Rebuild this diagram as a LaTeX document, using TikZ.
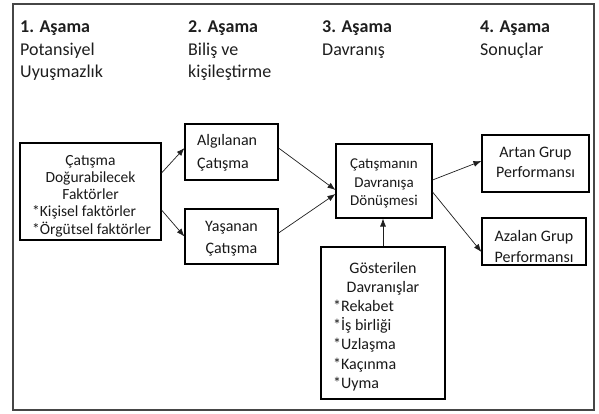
\documentclass[tikz,border=0pt]{standalone}
\usepackage{fontspec}
\setmainfont{Carlito}
\usetikzlibrary{arrows.meta}
\begin{document}
\begin{tikzpicture}[x=1pt,y=-1pt,
  frame/.style={draw={rgb,255:red,70;green,70;blue,70},line width=1.5pt},
  box/.style={draw=black,line width=1.1pt,inner sep=0pt},
  hd/.style={anchor=base west,inner sep=0pt,text={rgb,255:red,30;green,30;blue,30},font=\fontsize{18}{22}\selectfont},
  hdb/.style={hd,font=\fontsize{18}{22}\selectfont\bfseries},
  tc/.style={anchor=base,inner sep=0pt,text={rgb,255:red,25;green,25;blue,25},font=\fontsize{#1}{#1}\selectfont},
  tl/.style={anchor=base west,inner sep=0pt,text={rgb,255:red,25;green,25;blue,25},font=\fontsize{#1}{#1}\selectfont},
  arr/.style={-{Latex[length=8pt,width=6pt]},line width=0.7pt,draw={rgb,255:red,30;green,30;blue,30}}]
\path[use as bounding box] (0,0) rectangle (599,414);
\draw[frame] (13,4) rectangle (594,410);

% headers
\node[hdb] (h1) at (20,32.5) {1. Aşama};
\node[hd] (h1a) at (20,55.5) {Potansiyel};
\node[hd] (h1b) at (20,77.5) {Uyuşmazlık};
\node[hdb] (h2) at (188,32.5) {2. Aşama};
\node[hd] (h2a) at (188,55.5) {Biliş ve};
\node[hd] (h2b) at (188,77.5) {kişileştirme};
\node[hdb] (h3) at (322,32.5) {3. Aşama};
\node[hd] (h3a) at (322,55.5) {Davranış};
\node[hdb] (h4) at (480,32.5) {4. Aşama};
\node[hd] (h4a) at (480,55.5) {Sonuçlar};

% boxes
\node[box,minimum width=141pt,minimum height=97pt] (fac) at (90.5,191.5) {};
\node[box,minimum width=93pt,minimum height=56pt] (alg) at (231.5,152) {};
\node[box,minimum width=93pt,minimum height=55pt] (yas) at (231.5,236.5) {};
\node[box,minimum width=96pt,minimum height=74pt] (don) at (384,181) {};
\node[box,minimum width=107pt,minimum height=57pt] (art) at (535.5,163.5) {};
\node[box,minimum width=104pt,minimum height=47pt] (aza) at (534,241.5) {};
\node[box,minimum width=124pt,minimum height=152pt] (gos) at (383,323) {};

% factors text
\node[tc=15.5] (f1) at (90.5,165) {Çatışma};
\node[tc=15.5] (f2) at (90.5,182.3) {Doğurabilecek};
\node[tc=15.5] (f3) at (90.5,199.6) {Faktörler};
\node[tl=15.5] (f4) at (32,216.9) {*Kişisel faktörler};
\node[tl=15.5] (f5) at (32,234.2) {*Örgütsel faktörler};

% perceived / felt
\node[tl=16] (a1) at (197,146) {Algılanan};
\node[tl=16] (a2) at (197,168) {Çatışma};
\node[tc=16] (y1) at (231.5,231) {Yaşanan};
\node[tc=16] (y2) at (231.5,253) {Çatışma};

% behaviour
\node[tc=15] (d1) at (384,168.5) {Çatışmanın};
\node[tc=15] (d2) at (384,187) {Davranışa};
\node[tc=15] (d3) at (384,205.3) {Dönüşmesi};

% outcomes
\node[tc=16] (r1) at (535.5,158) {Artan Grup};
\node[tc=16] (r2) at (535.5,178) {Performansı};
\node[tc=16] (z1) at (534,241) {Azalan Grup};
\node[tc=16] (z2) at (534,262) {Performansı};

% shown behaviours
\node[tc=16] (g1) at (383,273.5) {Gösterilen};
\node[tc=16] (g2) at (383,292.6) {Davranışlar};
\node[tl=16] (g3) at (333,311.7) {*Rekabet};
\node[tl=16] (g4) at (333,330.8) {*İş birliği};
\node[tl=16] (g5) at (333,349.9) {*Uzlaşma};
\node[tl=16] (g6) at (333,369) {*Kaçınma};
\node[tl=16] (g7) at (333,388.1) {*Uyma};

% connectors
\draw[arr] ([yshift=18.5pt]fac.east) -- ([yshift=4pt]alg.west);
\draw[arr] ([yshift=-18.5pt]fac.east) -- (yas.west);
\draw[arr] ([yshift=4pt]alg.east) -- ([yshift=-9pt]don.west);
\draw[arr] ([yshift=3.5pt]yas.east) -- ([yshift=-13pt]don.west);
\draw[arr] ([yshift=1pt]don.east) -- ([yshift=2.5pt]art.west);
\draw[arr] ([yshift=-11pt]don.east) -- ([yshift=-10.5pt]aza.west);
\draw[arr] (gos.north) -- (gos.north |- don.south);
\end{tikzpicture}
\end{document}
